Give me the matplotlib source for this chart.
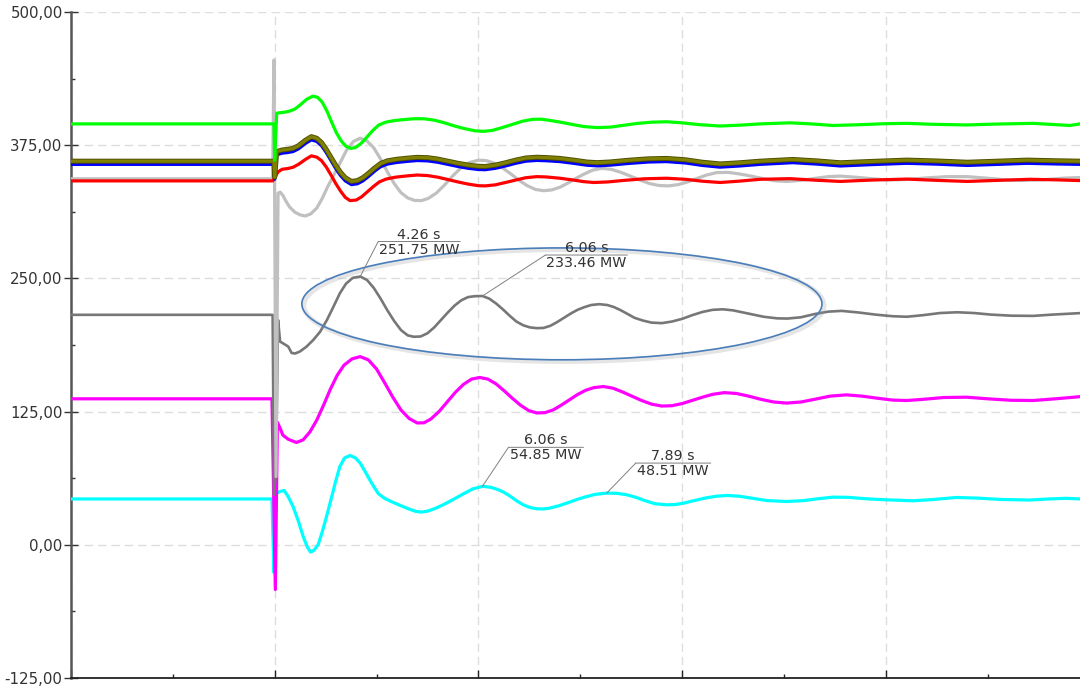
import matplotlib
matplotlib.use('Agg')
import matplotlib.pyplot as plt
import matplotlib.patheffects as pe
from matplotlib.patches import Ellipse
from matplotlib.ticker import MultipleLocator, FuncFormatter
from matplotlib.transforms import offset_copy

plt.rcParams['font.family'] = ['DejaVu Sans']
plt.rcParams['lines.scale_dashes'] = False

# time [s] and active power [MW]
t_green = [0, 2.99, 3.00, 3.03, 3.08, 3.15, 3.22, 3.30, 3.38, 3.47, 3.56, 3.63, 3.70, 3.77, 3.84, 3.91,
           3.98, 4.05, 4.12, 4.19, 4.27, 4.35, 4.44, 4.53, 4.63, 4.75, 4.90, 5.05, 5.20, 5.35, 5.50,
           5.65, 5.80, 5.95, 6.07, 6.20, 6.35, 6.50, 6.65, 6.80, 6.93, 7.08, 7.22, 7.38, 7.55, 7.75,
           7.95, 8.15, 8.35, 8.55, 8.77, 9.00, 9.25, 9.56, 9.85, 10.15, 10.59, 10.90, 11.22, 11.60,
           12.00, 12.31, 12.70, 13.19, 13.60, 14.17, 14.50, 14.71, 14.86]
p_green = [395, 395, 361, 405, 405.5, 406, 407, 409, 413, 418, 421, 420, 415.5, 407, 396.5, 386.5,
           379, 374, 372, 372.8, 376.5, 382, 388.5, 393.8, 396.5, 398, 399, 399.8, 399.8, 398.5, 396,
           393, 390.5, 388.5, 388, 388.8, 391.5, 394.5, 397.5, 399.3, 399.4, 398, 396.5, 394.5, 392.5, 391.5,
           392, 393.8, 395.5, 396.6, 397, 396, 394.3, 393, 393.8, 395, 396, 395, 393.5, 394.2,
           395.2, 395.5, 394.6, 394, 394.8, 395.5, 394.3, 393.5, 395]

t_olive = [0, 2.99, 3.00, 3.03, 3.11, 3.20, 3.27, 3.35, 3.45, 3.54, 3.62, 3.69, 3.76, 3.83, 3.90, 3.97,
           4.04, 4.13, 4.22, 4.30, 4.38, 4.47, 4.56, 4.66, 4.80, 4.95, 5.10, 5.25, 5.40, 5.55, 5.70,
           5.85, 6.00, 6.10, 6.25, 6.40, 6.55, 6.70, 6.86, 7.00, 7.20, 7.40, 7.60, 7.75, 7.95, 8.20,
           8.50, 8.77, 9.05, 9.30, 9.56, 9.85, 10.15, 10.63, 11.00, 11.33, 11.80, 12.31, 12.75, 13.20,
           13.65, 14.08, 14.50, 14.86]
p_olive = [360, 360, 345, 369, 370.5, 371.2, 372, 374.5, 379.5, 383, 381.5, 377.5, 371, 363.5, 356, 349.5,
           344.5, 341, 341.8, 344.5, 348.5, 353.5, 357.8, 360.3, 361.8, 362.8, 363.6, 363.3, 362, 360, 358,
           356.3, 355.2, 355, 356.3, 358.5, 361, 363, 363.7, 363.4, 362.6, 361, 359.2, 358.6, 359.3, 360.8,
           362.2, 362.6, 361.3, 359, 357.4, 358.5, 360, 361.6, 360.2, 358.5, 359.8, 361, 360.2, 359,
           360, 361, 360.4, 360]

t_blue = t_olive
p_blue = [357, 357, 343, 366, 367.5, 368.2, 369, 371.5, 376.5, 380, 378.5, 374.5, 368, 360.5, 353, 346.5,
          341.5, 338, 338.8, 341.5, 345.5, 350.5, 354.8, 357.3, 358.8, 359.8, 360.6, 360.3, 359, 357, 355,
          353.3, 352.2, 352, 353.3, 355.5, 358, 360, 360.7, 360.4, 359.6, 358, 356.2, 355.6, 356.3, 357.8,
          359.2, 359.6, 358.3, 356, 354.4, 355.5, 357, 358.6, 357.2, 355.5, 356.8, 358, 357.2, 356,
          357, 358, 357.4, 357]

t_red = [0, 2.97, 3.05, 3.11, 3.20, 3.27, 3.35, 3.45, 3.54, 3.62, 3.69, 3.76, 3.83, 3.90, 3.97, 4.04,
         4.11, 4.20, 4.28, 4.36, 4.45, 4.54, 4.64, 4.78, 4.95, 5.10, 5.25, 5.40, 5.55, 5.70, 5.85,
         6.00, 6.10, 6.25, 6.40, 6.55, 6.70, 6.86, 7.00, 7.20, 7.40, 7.55, 7.70, 7.90, 8.15, 8.45,
         8.77, 9.05, 9.30, 9.56, 9.85, 10.15, 10.59, 10.95, 11.33, 11.80, 12.31, 12.75, 13.20, 13.65,
         14.12, 14.50, 14.86]
p_red = [341.5, 341.5, 350, 352.4, 353.2, 354.3, 357, 361.5, 365, 363.8, 360.5, 354.5, 347, 339, 332, 326,
         323, 323.5, 326.5, 331, 336, 340.5, 343.2, 345, 346.2, 347, 346.5, 345, 342.8, 340.5, 338.5,
         337, 336.8, 337.8, 340, 342.3, 344.5, 345.5, 345.2, 344, 342.3, 340.8, 340, 340.5, 342, 343.5,
         344, 343, 341.2, 340, 341.3, 343, 343.6, 342.2, 341, 342.3, 343.2, 342, 341, 342,
         343, 342.5, 341.8]

t_lgray = [0, 2.97, 2.99, 3.02, 3.05, 3.08, 3.12, 3.17, 3.22, 3.30, 3.38, 3.45, 3.53, 3.62, 3.70, 3.78,
           3.86, 3.96, 4.06, 4.16, 4.26, 4.36, 4.46, 4.56, 4.66, 4.76, 4.86, 4.96, 5.06, 5.16, 5.26,
           5.38, 5.50, 5.62, 5.74, 5.86, 6.00, 6.12, 6.24, 6.36, 6.48, 6.60, 6.72, 6.84, 6.96, 7.08,
           7.20, 7.32, 7.44, 7.56, 7.68, 7.82, 7.96, 8.10, 8.24, 8.38, 8.52, 8.66, 8.80, 8.94, 9.08,
           9.22, 9.36, 9.51, 9.68, 9.85, 10.02, 10.20, 10.38, 10.55, 10.75, 10.95, 11.15, 11.33, 11.55,
           11.80, 12.02, 12.30, 12.60, 12.90, 13.20, 13.50, 13.80, 14.00, 14.30, 14.60, 14.86]
p_lgray = [343.5, 343.5, 455, 64, 330, 331, 328, 322, 317, 312, 309.5, 308.6, 310.5, 316, 325, 336,
           345.5, 358, 370.5, 378.5, 381.5, 379, 372.5, 362, 350, 339, 330.5, 325.5, 323.2, 323, 325,
           330, 337.5, 346, 353.5, 358.5, 361, 360.5, 358, 353.5, 348, 342, 337, 333.5, 332.3, 333,
           335.5, 339.5, 344, 348, 351.5, 353.3, 352.3, 349.5, 346, 342.3, 339, 337.2, 336.8, 338, 340.5,
           343.8, 347, 349.3, 349.5, 348, 346, 343.5, 341.5, 341, 342, 343.8, 345.5, 346, 345,
           343.5, 342.4, 342.8, 344.3, 345.5, 345.5, 344, 342.3, 341.8, 342.5, 344, 344.7]

t_dgray = [0, 2.97, 2.99, 3.02, 3.05, 3.08, 3.15, 3.20, 3.25, 3.30, 3.37, 3.47, 3.57, 3.67, 3.77, 3.87,
           3.96, 4.05, 4.15, 4.26, 4.36, 4.46, 4.56, 4.66, 4.76, 4.86, 4.96, 5.05, 5.15, 5.25, 5.35,
           5.45, 5.55, 5.65, 5.75, 5.85, 5.95, 6.06, 6.16, 6.26, 6.36, 6.46, 6.56, 6.66, 6.76, 6.86,
           6.96, 7.06, 7.16, 7.26, 7.36, 7.46, 7.56, 7.66, 7.78, 7.90, 8.00, 8.10, 8.20, 8.30, 8.42,
           8.55, 8.70, 8.85, 9.00, 9.15, 9.30, 9.45, 9.60, 9.75, 9.90, 10.05, 10.20, 10.40, 10.55,
           10.75, 10.95, 11.15, 11.35, 11.60, 11.85, 12.10, 12.31, 12.55, 12.80, 13.05, 13.30, 13.55,
           13.85, 14.17, 14.45, 14.86]
p_dgray = [215.8, 215.8, 47, 70, 211, 190.7, 188, 186, 180, 179.5, 181.3, 186, 192.3, 200, 211, 224,
           236, 245, 250.5, 251.75, 248.5, 241, 231, 220, 210, 201.5, 196.5, 195.2, 195.5, 198.5, 204,
           211, 218, 224.5, 229.5, 232.5, 233.3, 233.46, 231, 226.5, 221, 215, 209.5, 206, 204, 203.3,
           203.5, 205.5, 209, 213, 217, 220.5, 223, 225, 225.8, 225, 223, 220, 216.5, 213, 210.5,
           208.5, 208, 209.5, 212, 215.5, 218.5, 220.5, 221, 220, 218, 216, 214, 212.5, 212.3,
           213.5, 216.5, 218.8, 219.5, 218, 216, 214.5, 214, 215.5, 217.5, 218.2, 217.5, 216,
           215, 214.8, 216, 217.4]

t_magenta = [0, 2.96, 3.01, 3.04, 3.08, 3.12, 3.20, 3.32, 3.42, 3.52, 3.62, 3.72, 3.82, 3.92, 4.02, 4.14,
             4.26, 4.38, 4.50, 4.62, 4.74, 4.86, 4.98, 5.10, 5.20, 5.30, 5.42, 5.54, 5.66, 5.78, 5.90,
             6.02, 6.14, 6.26, 6.38, 6.50, 6.62, 6.74, 6.86, 6.98, 7.10, 7.22, 7.34, 7.46, 7.58, 7.70,
             7.84, 7.98, 8.12, 8.26, 8.40, 8.55, 8.70, 8.85, 9.00, 9.15, 9.30, 9.45, 9.62, 9.80, 9.98,
             10.16, 10.35, 10.54, 10.75, 10.95, 11.18, 11.42, 11.65, 11.88, 12.10, 12.31, 12.55, 12.85,
             13.19, 13.50, 13.85, 14.17, 14.50, 14.86]
p_magenta = [137, 137, -42, 115, 109.4, 103, 99, 96, 98.5, 106, 117, 131, 146, 159, 168.5, 174.5,
             176.6, 173.5, 165, 152, 138.5, 126.5, 118.5, 114.3, 114.5, 118, 125, 134, 143, 150.5, 155.5,
             157, 155.5, 151, 144.5, 137.5, 131, 126, 123.7, 124, 126.5, 131, 136, 141, 145, 147.5,
             148.5, 147, 143.5, 139.5, 135.5, 132, 130.2, 130.5, 132.5, 135.5, 138.5, 141.2, 142.8, 142, 139.5,
             136.5, 134, 133, 134, 136.5, 139.5, 140.7, 139.5, 137.5, 135.8, 135.4, 136.5, 138.2,
             138.5, 137, 135.6, 135.4, 137, 139]

t_cyan = [0, 2.96, 2.99, 3.01, 3.03, 3.08, 3.14, 3.20, 3.27, 3.35, 3.42, 3.48, 3.53, 3.58, 3.64, 3.70,
          3.77, 3.84, 3.90, 3.96, 4.03, 4.11, 4.19, 4.26, 4.33, 4.40, 4.47, 4.53, 4.62, 4.72, 4.85,
          4.98, 5.08, 5.16, 5.25, 5.36, 5.48, 5.60, 5.70, 5.80, 5.92, 6.06, 6.18, 6.28, 6.37, 6.47,
          6.57, 6.66, 6.76, 6.86, 6.96, 7.05, 7.18, 7.32, 7.45, 7.58, 7.72, 7.89, 8.04, 8.18, 8.32,
          8.45, 8.60, 8.77, 8.90, 9.02, 9.18, 9.35, 9.51, 9.66, 9.85, 10.05, 10.25, 10.54, 10.80,
          11.00, 11.22, 11.45, 11.75, 12.01, 12.40, 12.70, 13.04, 13.35, 13.70, 14.12, 14.40, 14.66, 14.86]
p_cyan = [43, 43, -26, 70, 48.5, 50, 51, 45, 36, 22, 7.8, -2, -6.9, -5, 0, 12,
          28, 45, 60, 73.5, 81.5, 83.8, 81.5, 76.6, 69, 61, 53.5, 47.8, 43.5, 40.5, 36.9,
          33.5, 31.3, 30.7, 31.5, 34, 37.5, 41.5, 45, 48.5, 52.5, 54.85, 54, 52, 49.5, 45.5,
          41, 37.5, 35, 33.8, 33.6, 34.4, 36.5, 39.5, 42.5, 45, 47.3, 48.51, 48.3, 47, 44.5,
          41.5, 38.5, 37.5, 37.8, 39, 41.5, 44, 45.6, 46.3, 45.5, 43.5, 41.5, 40.6, 41.5,
          43.2, 44.7, 44.5, 43, 42.2, 41.3, 42.5, 44.4, 43.8, 42.5, 42, 43, 43.6, 43]

# marked extrema: (time, value)
marks = [(4.26, 251.75), (6.06, 233.46), (6.06, 54.85), (7.89, 48.51)]

fig = plt.figure(figsize=(10.8, 6.86), dpi=100)
ax = fig.add_axes([0.0657, 0.0117, 0.9343, 0.9708])

ax.plot(t_cyan, p_cyan, color='#00ffff', lw=2.3, zorder=3)
ax.plot(t_magenta, p_magenta, color='#ff00ff', lw=2.3, zorder=4)
ax.plot(t_dgray, p_dgray, color='#777777', lw=1.9, zorder=5)
ax.plot(t_lgray, p_lgray, color='#c0c0c0', lw=2.3, zorder=6)
ax.plot(t_red, p_red, color='#ff0000', lw=2.3, zorder=7)
ax.plot(t_blue, p_blue, color='#0000ff', lw=2.3, zorder=8)
ax.plot(t_olive, p_olive, color='#808000', lw=2.3, zorder=9,
        path_effects=[pe.Stroke(linewidth=3.6, foreground='#4d4d00'), pe.Normal()])
ax.plot(t_green, p_green, color='#00ff00', lw=2.3, zorder=10)

# highlight ellipse round the dark grey swing
shadow = Ellipse((7.26, 224.5), 7.66, 105, fill=False, ec='#999999', lw=3.5, alpha=0.25, zorder=11)
ax.add_patch(shadow)
ax.add_patch(Ellipse((7.23, 226.1), 7.66, 105, fill=False, ec='#4a7ebb', lw=1.2, zorder=12))

# callouts: leader line, underline, two text rows
offs = [(18, 35, 82), (63, 41, 82), (26, 39, 75), (29, 30, 75)]
for (t, p), (dx, dy, ln) in zip(marks, offs):
    ax.annotate('', xy=(t, p), xytext=(dx, dy), textcoords='offset pixels',
                arrowprops=dict(arrowstyle='-', color='#808080', lw=0.7, shrinkA=0, shrinkB=0), zorder=13)
    ax.annotate('', xy=(t, p), xycoords=offset_copy(ax.transData, fig=fig, x=dx + ln, y=dy, units='dots'),
                xytext=(t, p), textcoords=offset_copy(ax.transData, fig=fig, x=dx, y=dy, units='dots'),
                arrowprops=dict(arrowstyle='-', color='#808080', lw=0.7, shrinkA=0, shrinkB=0), zorder=13)
    ax.annotate('%.2f s' % t, xy=(t, p), xytext=(dx + ln / 2, dy), textcoords='offset pixels',
                ha='center', va='bottom', fontsize=10.3, color='#333333', zorder=14)
    ax.annotate('%.2f MW' % p, xy=(t, p), xytext=(dx + ln / 2, dy - 1), textcoords='offset pixels',
                ha='center', va='top', fontsize=10.3, color='#333333', zorder=14)

ax.set_xlim(0, 14.86)
ax.set_ylim(-125, 500)
ax.xaxis.set_major_locator(MultipleLocator(3))
ax.xaxis.set_minor_locator(MultipleLocator(1.5))
ax.yaxis.set_major_locator(MultipleLocator(125))
ax.yaxis.set_minor_locator(MultipleLocator(62.5))
ax.yaxis.set_major_formatter(FuncFormatter(lambda v, pos: ('%.2f' % v).replace('.', ',')))
ax.set_xticklabels([])

ax.grid(True, which='major', color='#dddddd', lw=1, linestyle=(0, (6, 3.6)), zorder=0)
ax.set_axisbelow(True)

ax.tick_params(axis='y', which='major', direction='inout', length=10, width=1, color='#333333',
               labelsize=10.8, labelcolor='#333333', pad=1)
ax.tick_params(axis='y', which='minor', direction='in', length=3, width=1, color='#333333')
ax.tick_params(axis='x', which='major', direction='in', length=6, width=1, color='#222222')
ax.tick_params(axis='x', which='minor', direction='in', length=3, width=1, color='#222222')

ax.spines['top'].set_visible(False)
ax.spines['right'].set_visible(False)
ax.spines['left'].set_color('#555555')
ax.spines['left'].set_linewidth(1.8)
ax.spines['bottom'].set_color('#222222')
ax.spines['bottom'].set_linewidth(1.3)

fig.savefig('out.png', dpi=100)
